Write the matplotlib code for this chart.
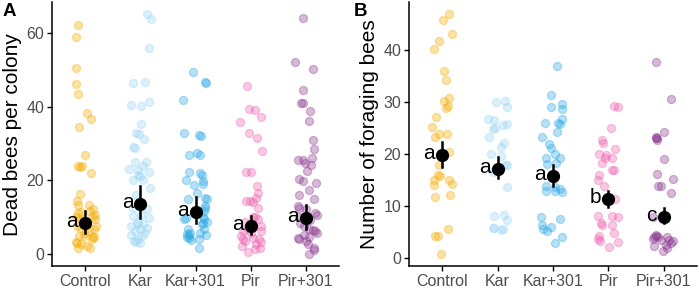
import matplotlib
matplotlib.use('Agg')
import matplotlib.pyplot as plt

plt.rcParams['font.family'] = ['Liberation Sans', 'DejaVu Sans']

groups = ['Control', 'Kar', 'Kar+301', 'Pir', 'Pir+301']
colors = ['#F5AC00', '#9AD5F5', '#2BA8E6', '#EE62B0', '#8C3A90']

# --- panel A: dead bees per colony ---
dead_ctrl = [62.2, 59.0, 50.4, 46.0, 43.3, 38.1, 36.5, 34.5, 26.8, 23.9, 23.7, 23.5, 21.9, 16.3, 14.2,
             13.3, 13.1, 12.0, 11.5, 11.3, 11.1, 10.6, 10.0, 10.0, 9.3, 9.3, 7.5, 7.5, 7.0, 6.6,
             6.1, 4.8, 4.8, 4.6, 4.4, 3.9, 3.0, 2.5, 2.1, 1.6, 1.6, 2.8, 5.5, 8.0]
dead_ctrl_dx = [-0.13, -0.17, -0.16, -0.17, -0.13, 0.04, 0.10, -0.11, -0.01, -0.13, -0.05, -0.09, 0.11, -0.10, -0.15,
                -0.13, 0.07, 0.15, 0.09, -0.07, -0.13, 0.18, 0.13, -0.16, -0.09, 0.18, 0.20, -0.15, -0.07, 0.16,
                0.07, -0.11, -0.02, 0.16, 0.15, 0.13, -0.16, -0.07, 0.04, 0.09, -0.13, -0.15, 0.0, -0.04]
dead_kar = [65.1, 63.8, 55.8, 46.4, 46.6, 41.2, 40.4, 40.1, 35.2, 32.7, 32.5, 31.1, 29.1, 28.7, 25.0,
            25.0, 23.0, 23.7, 22.7, 22.1, 21.4, 21.2, 20.1, 20.1, 17.8, 16.0, 12.5, 12.0, 10.4, 10.2,
            9.7, 8.5, 7.9, 7.9, 7.5, 7.0, 6.6, 6.1, 5.7, 4.9, 4.8, 3.9, 3.4, 3.0, 2.8]
dead_kar_dx = [0.12, 0.20, 0.15, -0.14, 0.08, 0.15, -0.16, 0.01, 0.01, -0.08, -0.03, 0.07, -0.14, -0.10, -0.10,
               0.10, -0.20, 0.04, -0.05, 0.15, -0.04, 0.00, -0.14, 0.04, 0.18, -0.07, -0.13, 0.12, 0.02, -0.13,
               0.15, -0.05, -0.06, 0.05, -0.17, 0.13, 0.00, -0.09, 0.09, -0.17, 0.03, -0.04, -0.12, -0.07, 0.00]
dead_kar301 = [49.4, 46.7, 46.4, 41.9, 32.7, 32.2, 31.9, 27.3, 26.9, 26.8, 22.3, 21.9, 21.3, 20.1, 19.8,
               18.8, 18.7, 16.5, 15.1, 14.7, 14.7, 12.9, 12.4, 11.6, 10.0, 9.7, 9.4, 9.5, 8.7, 8.4,
               7.9, 6.7, 6.6, 5.7, 5.5, 5.0, 4.9, 4.1, 3.7, 3.9, 1.6, 5.2, 4.4]
dead_kar301_dx = [-0.05, 0.18, 0.19, -0.22, -0.20, 0.07, 0.10, 0.03, 0.09, -0.11, -0.11, 0.09, 0.12, -0.17, 0.13,
                  0.14, -0.02, 0.03, 0.17, -0.14, 0.20, 0.18, 0.18, 0.15, 0.13, -0.17, -0.20, 0.16, 0.20, 0.13,
                  0.12, 0.16, -0.14, -0.10, 0.08, -0.12, 0.19, -0.11, -0.08, 0.06, 0.06, -0.16, -0.15]
dead_pir = [45.5, 39.2, 39.0, 37.2, 35.8, 32.7, 31.4, 27.9, 22.1, 22.1, 18.3, 16.5, 15.1, 14.4, 14.4,
            14.0, 10.0, 9.9, 9.4, 8.7, 7.5, 6.6, 6.1, 6.1, 5.5, 4.8, 4.3, 3.9, 3.9, 3.4,
            3.0, 2.5, 1.6, 1.2, 0.3, 2.0, 8.0, 12.4]
dead_pir_dx = [-0.07, -0.03, 0.07, 0.18, -0.20, -0.03, 0.11, 0.20, -0.08, 0.00, 0.12, 0.13, 0.09, -0.08, -0.02,
               0.05, 0.05, 0.07, 0.14, -0.10, 0.19, -0.05, -0.14, 0.19, 0.00, -0.17, 0.05, -0.14, 0.15, -0.10,
               0.19, 0.10, 0.17, 0.07, -0.05, -0.15, 0.02, 0.14]
dead_pir301 = [64.0, 52.2, 50.3, 44.4, 41.0, 40.9, 38.7, 36.1, 30.9, 28.4, 25.5, 25.5, 25.9, 24.6, 24.1,
               22.5, 20.3, 19.8, 19.2, 17.4, 16.0, 14.9, 12.9, 12.3, 12.1, 11.1, 10.6, 10.0, 9.0, 8.4,
               7.6, 6.8, 6.3, 6.0, 5.7, 5.0, 4.6, 4.2, 3.9, 3.4, 2.5, 1.4, 1.0, -0.2]
dead_pir301_dx = [-0.06, -0.19, 0.13, -0.06, -0.09, -0.06, 0.07, 0.06, 0.12, 0.15, -0.14, -0.06, 0.11, -0.01, 0.10,
                  0.02, -0.12, -0.05, 0.18, 0.06, -0.12, 0.15, -0.15, -0.12, 0.00, 0.17, 0.20, -0.12, 0.08, -0.10,
                  -0.04, 0.05, 0.12, 0.17, 0.20, -0.03, 0.06, -0.14, -0.12, 0.00, 0.03, 0.15, 0.15, 0.06]
dead_mean = [8.4, 13.6, 11.4, 7.5, 9.7]
dead_lo = [5.7, 9.7, 8.2, 5.2, 6.6]
dead_hi = [11.7, 18.3, 15.4, 10.2, 13.3]
dead_letters = ['a', 'a', 'a', 'a', 'a']

# --- panel B: number of foraging bees ---
forag_ctrl = [47.1, 45.9, 43.1, 41.8, 40.2, 36.0, 34.2, 30.8, 30.3, 29.2, 28.8, 27.2, 25.2, 23.8, 23.8,
              23.2, 20.3, 17.9, 15.9, 15.7, 15.0, 15.0, 14.3, 14.0, 11.8, 12.1, 4.2, 4.2, 5.5, 0.7]
forag_ctrl_dx = [0.12, 0.01, 0.17, -0.06, -0.15, 0.03, 0.07, 0.13, 0.03, 0.10, 0.07, -0.11, -0.18, -0.05, 0.09,
                 -0.13, 0.13, -0.05, -0.08, -0.04, -0.15, 0.13, 0.17, -0.14, -0.12, 0.14, -0.12, -0.08, 0.11, -0.02]
forag_kar = [30.1, 30.2, 29.1, 26.7, 26.5, 24.9, 25.0, 25.6, 25.8, 23.3, 22.2, 21.3, 20.0, 19.6, 17.9,
             17.9, 16.6, 13.7, 8.0, 8.2, 7.3, 5.7, 5.5, 5.8, 5.3]
forag_kar_dx = [-0.03, 0.13, 0.17, -0.18, -0.07, -0.09, -0.04, 0.09, 0.18, -0.15, 0.11, 0.07, -0.12, 0.07, 0.17,
                0.13, -0.09, 0.18, -0.07, 0.11, 0.18, -0.06, 0.09, -0.08, 0.06]
forag_kar301 = [36.9, 31.3, 29.7, 29.0, 28.6, 26.7, 26.0, 25.9, 25.7, 24.3, 23.2, 22.0, 21.1, 20.0, 19.2,
                19.2, 18.2, 18.0, 13.8, 13.7, 13.3, 12.8, 12.8, 12.7, 7.8, 7.4, 6.3, 5.5, 5.2, 5.9,
                3.9, 2.9]
forag_kar301_dx = [0.08, -0.04, 0.17, -0.03, 0.17, 0.17, -0.14, 0.09, 0.13, 0.07, -0.20, -0.07, -0.04, 0.03, -0.13,
                   0.13, 0.05, -0.10, -0.13, 0.03, 0.13, -0.13, 0.03, 0.16, -0.21, 0.12, -0.19, -0.17, -0.11, -0.04,
                   0.16, 0.04]
forag_pir = [29.2, 29.1, 25.0, 22.7, 22.2, 20.9, 20.1, 19.8, 19.2, 19.2, 18.2, 17.0, 16.9, 15.9, 15.0,
             13.8, 11.3, 8.0, 8.1, 7.8, 6.7, 6.3, 6.3, 4.2, 3.7, 4.8, 3.3, 3.1, 2.0]
forag_pir_dx = [0.10, 0.18, 0.05, -0.11, -0.10, 0.12, -0.16, -0.04, -0.06, 0.07, -0.11, 0.06, 0.10, -0.17, -0.18,
                -0.08, 0.13, -0.18, 0.07, 0.18, -0.14, -0.12, 0.06, -0.17, -0.18, 0.10, -0.15, 0.18, 0.01]
forag_pir301 = [37.7, 30.7, 24.3, 23.3, 23.1, 23.0, 22.7, 19.0, 16.1, 15.2, 13.8, 13.8, 12.4, 7.8, 4.0,
                4.3, 4.0, 3.6, 4.1, 4.0, 3.4, 3.4, 3.3, 2.3, 2.4, 2.9, 1.8, 1.2]
forag_pir301_dx = [-0.13, 0.13, 0.00, -0.13, -0.12, -0.14, -0.12, 0.01, -0.12, 0.16, -0.11, -0.04, 0.13, -0.19, -0.17,
                   -0.14, -0.11, -0.20, -0.13, 0.06, -0.04, 0.09, 0.17, -0.17, 0.04, 0.13, 0.06, -0.02]
forag_mean = [19.8, 17.2, 15.8, 11.3, 7.9]
forag_lo = [17.5, 15.3, 13.9, 9.8, 6.6]
forag_hi = [22.3, 19.5, 17.9, 12.9, 9.5]
forag_letters = ['a', 'a', 'a', 'b', 'c']


def draw_panel(ax, values, offsets, mean, lo, hi, letters, ylabel, ylim, yticks, tag, tag_x):
    for i, (v, dx) in enumerate(zip(values, offsets)):
        xs = [i + d for d in dx]
        ax.scatter(xs, v, s=34, color=colors[i], alpha=0.35, linewidths=0.9, zorder=2)
    for i in range(len(groups)):
        ax.plot([i, i], [lo[i], hi[i]], color='black', lw=1.8, zorder=3)
        ax.plot(i, mean[i], 'o', color='black', markersize=8.5, zorder=4)
        ax.annotate(letters[i], (i, mean[i]), xytext=(-5, 1), textcoords='offset points',
                    ha='right', va='center', fontsize=15, color='black', zorder=5)
    ax.set_xlim(-0.6, 4.6)
    ax.set_ylim(*ylim)
    ax.set_xticks(range(len(groups)))
    ax.set_xticklabels(groups)
    ax.set_yticks(yticks)
    ax.set_ylabel(ylabel, fontsize=15, labelpad=3)
    for s in ['top', 'right']:
        ax.spines[s].set_visible(False)
    for s in ['left', 'bottom']:
        ax.spines[s].set_linewidth(1.1)
    ax.tick_params(axis='both', labelsize=11.5, labelcolor='#4D4D4D', length=3.5, width=1.0, pad=2)
    ax.text(tag_x, 0.998, tag, transform=ax.transAxes, fontsize=13.5, fontweight='bold',
            ha='left', va='top')


fig = plt.figure(figsize=(6.99, 2.89), dpi=100)
ax1 = fig.add_axes([0.0744, 0.0796, 0.4106, 0.913])
ax2 = fig.add_axes([0.585, 0.0796, 0.412, 0.913])

draw_panel(ax1,
           [dead_ctrl, dead_kar, dead_kar301, dead_pir, dead_pir301],
           [dead_ctrl_dx, dead_kar_dx, dead_kar301_dx, dead_pir_dx, dead_pir301_dx],
           dead_mean, dead_lo, dead_hi, dead_letters,
           'Dead bees per colony', (-3.4, 68.4), [0, 20, 40, 60], 'A', -0.172)
draw_panel(ax2,
           [forag_ctrl, forag_kar, forag_kar301, forag_pir, forag_pir301],
           [forag_ctrl_dx, forag_kar_dx, forag_kar301_dx, forag_pir_dx, forag_pir301_dx],
           forag_mean, forag_lo, forag_hi, forag_letters,
           'Number of foraging bees', (-1.6, 49.3), [0, 10, 20, 30, 40], 'B', -0.19)

fig.savefig('out.png', dpi=100)
